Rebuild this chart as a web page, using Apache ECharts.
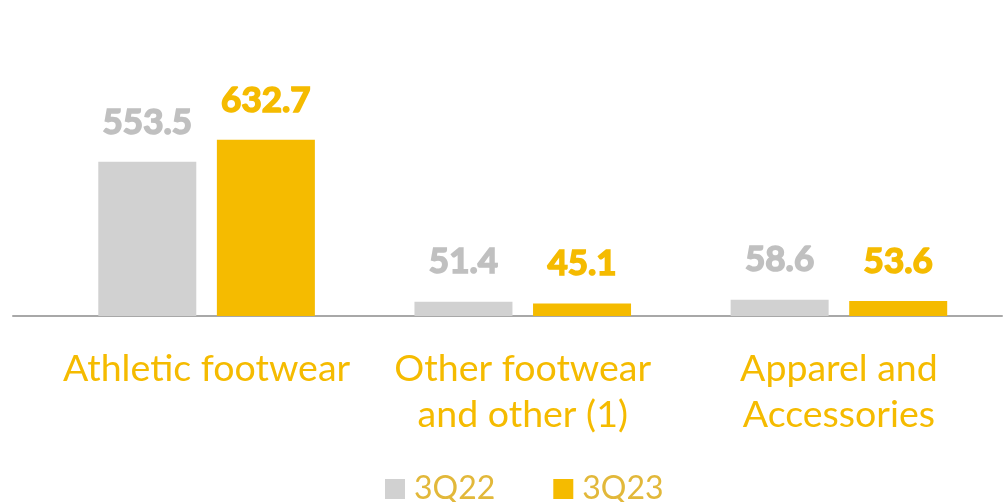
<!DOCTYPE html>
<html>
<head>
<meta charset="utf-8">
<style>
  html, body { margin: 0; padding: 0; background: #fff; }
  #chart { width: 1003px; height: 502px; }
</style>
<script src="https://cdn.jsdelivr.net/npm/echarts@6/dist/echarts.min.js"></script>
</head>
<body>
<div id="chart"></div>
<script>
const categories = ['Athletic footwear', 'Other footwear\nand other (1)', 'Apparel and\nAccessories']
const values3Q22 = [553.5, 51.4, 58.6]
const values3Q23 = [632.7, 45.1, 53.6]
const seriesNames = ['3Q22', '3Q23']

const GRAY = '#d1d1d1'
const GOLD = '#f5bb00'
const FONT = 'Lato, "Noto Sans", sans-serif'

const chart = echarts.init(document.getElementById('chart'), null, { renderer: 'canvas' })

function barSeries(name, data, color, labelColor) {
  return {
    name,
    type: 'bar',
    data,
    barWidth: 98,
    barGap: '21%',
    itemStyle: { color },
    label: {
      show: true,
      position: 'top',
      distance: 22,
      color: labelColor,
      fontFamily: FONT,
      fontWeight: 'bold',
      fontSize: 35,
      // thin outline in the same colour to get the heavy weight of the original
      textBorderColor: labelColor,
      textBorderWidth: 1.6,
      formatter: p => p.value.toFixed(1),
    },
  }
}

chart.setOption({
  animation: false,
  grid: [
    { left: 48.5, right: 6, top: 121, bottom: 186, containLabel: false },
    { left: 13, right: 1, top: 121, bottom: 186, containLabel: false },
  ],
  legend: {
    bottom: -8,
    left: 380,
    itemWidth: 20,
    itemHeight: 20,
    itemGap: 58,
    icon: 'rect',
    textStyle: { color: '#e2b83a', fontFamily: FONT, fontSize: 32, padding: [0, 0, 0, 4] },
    data: seriesNames,
  },
  xAxis: [
    {
      type: 'category',
      gridIndex: 0,
      data: categories,
      axisLine: { show: false },
      axisTick: { show: false },
      axisLabel: {
        color: GOLD,
        fontFamily: FONT,
        fontSize: 37.5,
        lineHeight: 46,
        margin: 30,
        interval: 0,
      },
    },
    {
      type: 'value',
      gridIndex: 1,
      min: 0,
      max: 1,
      axisLine: { show: true, onZero: false, lineStyle: { color: '#a8a8a8', width: 2 } },
      axisTick: { show: false },
      axisLabel: { show: false },
      splitLine: { show: false },
    },
  ],
  yAxis: [
    { type: 'value', gridIndex: 0, min: 0, max: 700, show: false },
    { type: 'value', gridIndex: 1, min: 0, max: 1, show: false },
  ],
  series: [
    barSeries(seriesNames[0], values3Q22, GRAY, '#c0c0c0'),
    barSeries(seriesNames[1], values3Q23, GOLD, GOLD),
  ],
})
</script>
</body>
</html>
